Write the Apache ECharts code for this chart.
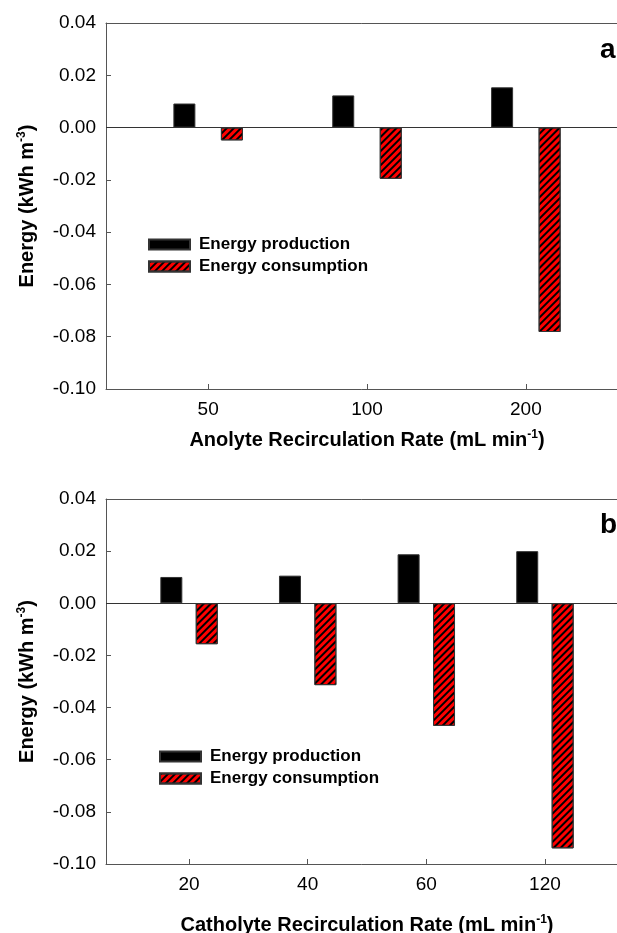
<!DOCTYPE html>
<html>
<head>
<meta charset="utf-8">
<script src="https://cdn.jsdelivr.net/npm/echarts@6/dist/echarts.min.js"></script>
<style>
html,body{margin:0;padding:0;background:#fff;}
#chart{width:617px;height:933px;}
</style>
</head>
<body>
<div id="chart"></div>
<script>
// ---- data ----
const seriesNames = ['Energy production', 'Energy consumption'];
const topCategories = ['50', '100', '200'];
const topProduction = [0.0092, 0.0123, 0.0154];
const topConsumption = [-0.0049, -0.0196, -0.0782];
const bottomCategories = ['20', '40', '60', '120'];
const bottomProduction = [0.0101, 0.0106, 0.0188, 0.0200];
const bottomConsumption = [-0.0157, -0.0314, -0.0470, -0.0940];
const yMin = -0.10, yMax = 0.04, yStep = 0.02;
const panelLetters = ['a', 'b'];
const xTitles = ['Anolyte Recirculation Rate (mL min', 'Catholyte Recirculation Rate (mL min'];

const FONT = '"Liberation Sans", Arial, sans-serif';
const AXIS_COLOR = '#555';

const hatch = {
  symbol: 'rect',
  symbolSize: 1,
  color: '#000',
  dashArrayX: [1, 0],
  dashArrayY: [1.1, 2.1],
  rotation: -Math.PI / 4
};

function pos(cats) { return cats.map((c, i) => i + 1); }
function pairs(cats, vals) { return vals.map((v, i) => [i + 1, v]); }

const richTitle = {
  t: { fontSize: 20, fontWeight: 'bold', fontFamily: FONT, color: '#000' },
  s: { fontSize: 12, fontWeight: 'bold', fontFamily: FONT, color: '#000', verticalAlign: 'top', padding: [0, 0, 10, 0] }
};

function xAxisFor(idx, cats, min, max, titleText, gap) {
  return {
    type: 'value', gridIndex: idx, min: min, max: max,
    splitLine: { show: false },
    axisLine: { show: true, onZero: false, lineStyle: { color: AXIS_COLOR, width: 1 } },
    axisTick: { show: true, inside: true, length: 5, customValues: pos(cats), lineStyle: { color: AXIS_COLOR } },
    axisLabel: { customValues: pos(cats), formatter: v => cats[Math.round(v) - 1], fontSize: 19, fontFamily: FONT, color: '#000', margin: 11 },
    name: '{t|' + titleText + '}{s|-1}{t|)}',
    nameLocation: 'middle', nameGap: gap,
    nameTextStyle: { rich: richTitle }
  };
}
function topFrameAxis(idx, min, max) {
  return {
    type: 'value', gridIndex: idx, position: 'top', min: min, max: max,
    splitLine: { show: false },
    axisLine: { show: true, onZero: false, lineStyle: { color: AXIS_COLOR, width: 1 } },
    axisTick: { show: false }, axisLabel: { show: false }
  };
}
function yAxisFor(idx) {
  return {
    type: 'value', gridIndex: idx, min: yMin, max: yMax, interval: yStep,
    splitLine: { show: false },
    axisLine: { show: true, onZero: false, lineStyle: { color: AXIS_COLOR, width: 1 } },
    axisTick: { show: true, inside: true, length: 5, lineStyle: { color: AXIS_COLOR } },
    axisLabel: { formatter: v => v.toFixed(2), fontSize: 19, fontFamily: FONT, color: '#000', margin: 10 },
    name: '{t|Energy (kWh m}{s|-3}{t|)}',
    nameLocation: 'middle', nameGap: 68,
    nameTextStyle: { rich: richTitle }
  };
}
function barsFor(idx, cats, prod, cons, gap) {
  return [
    {
      name: seriesNames[0], type: 'bar', xAxisIndex: idx, yAxisIndex: idx,
      data: pairs(cats, prod), barWidth: 22, barGap: gap,
      itemStyle: { color: '#000', borderColor: '#333', borderWidth: 1 },
      markLine: {
        silent: true, symbol: ['none', 'none'], label: { show: false },
        lineStyle: { color: '#333', width: 1, type: 'solid' },
        data: [{ yAxis: 0 }]
      },
      animation: false
    },
    {
      name: seriesNames[1], type: 'bar', xAxisIndex: idx, yAxisIndex: idx,
      data: pairs(cats, cons), barWidth: 22, barGap: gap,
      itemStyle: { color: '#ff0000', borderColor: '#333', borderWidth: 1, decal: hatch },
      animation: false
    }
  ];
}
function legendFor(left, top) {
  return {
    data: seriesNames, orient: 'vertical', left: left, top: top, padding: 0,
    itemWidth: 41, itemHeight: 10, itemGap: 5, icon: 'rect',
    selectedMode: false,
    textStyle: { fontSize: 17, lineHeight: 17, fontWeight: 'bold', fontFamily: FONT, color: '#000', padding: [0, 0, 0, 4] }
  };
}

const chart = echarts.init(document.getElementById('chart'), null, { renderer: 'canvas' });
chart.setOption({
  animation: false,
  backgroundColor: '#fff',
  grid: [
    { left: 106, top: 23, width: 522, height: 366, outerBoundsMode: 'none', containLabel: false },
    { left: 106, top: 499, width: 522, height: 365, outerBoundsMode: 'none', containLabel: false }
  ],
  legend: [legendFor(148, 236), legendFor(159, 748)],
  xAxis: [
    xAxisFor(0, topCategories, 0.357, 3.643, xTitles[0], 40),
    xAxisFor(1, bottomCategories, 0.3, 4.7, xTitles[1], 50),
    topFrameAxis(0, 0.357, 3.643),
    topFrameAxis(1, 0.3, 4.7)
  ],
  yAxis: [yAxisFor(0), yAxisFor(1)],
  series: [].concat(
    barsFor(0, topCategories, topProduction, topConsumption, '116%'),
    barsFor(1, bottomCategories, bottomProduction, bottomConsumption, '61%')
  ),
  graphic: [
    { type: 'text', left: 600, top: 36, style: { text: panelLetters[0], font: 'bold 28px ' + FONT, fill: '#000' } },
    { type: 'text', left: 600, top: 511, style: { text: panelLetters[1], font: 'bold 28px ' + FONT, fill: '#000' } }
  ]
});
</script>
</body>
</html>
